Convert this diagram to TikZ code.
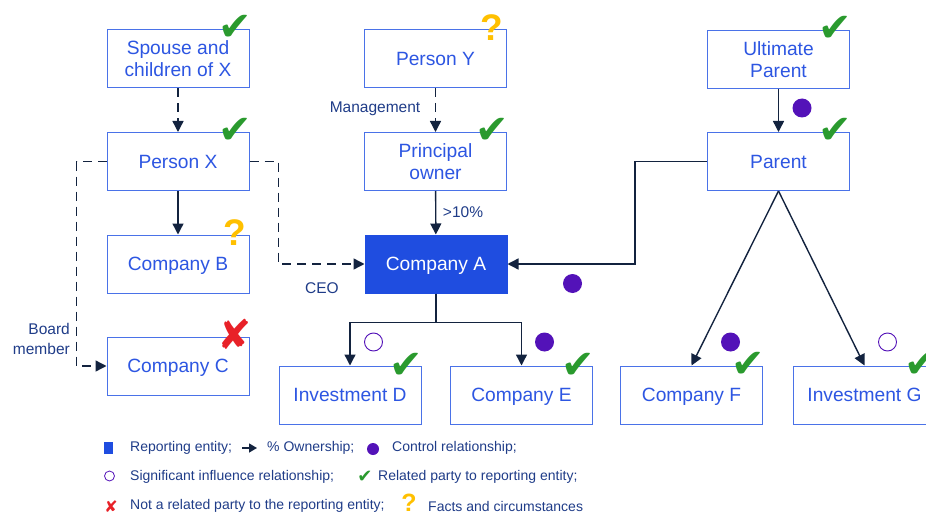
\documentclass[tikz,border=0pt]{standalone}
\usepackage{fontspec}
\setmainfont{Liberation Sans}
\newfontfamily\symfont{DejaVu Sans}
\usepackage{tikz}
\usetikzlibrary{arrows.meta,calc}

\definecolor{boxblue}{HTML}{4A72E8}
\definecolor{txtblue}{HTML}{2D56E2}
\definecolor{fillblue}{HTML}{1F4DE0}
\definecolor{linenavy}{HTML}{13233F}
\definecolor{lblnavy}{HTML}{1F3C88}
\definecolor{ctrlpurple}{HTML}{5312B8}
\definecolor{chkgreen}{HTML}{2A9A2E}
\definecolor{qorange}{HTML}{FFC000}
\definecolor{xred}{HTML}{E82128}

\begin{document}
\begin{tikzpicture}[x=1pt,y=-1pt,
    entity/.style={draw=boxblue,line width=1pt,fill=white,text=txtblue,minimum width=142pt,minimum height=58pt,inner sep=0pt,align=center,text depth=0pt,font=\fontsize{19.2}{22}\selectfont},
    report/.style={entity,fill=fillblue,draw=fillblue,text=white},
    own/.style={draw=linenavy,line width=1.4pt,-{Triangle[length=11pt,width=11pt]}},
    rel/.style={own,dash pattern=on 9pt off 6pt},
    lbl/.style={text=lblnavy,font=\fontsize{15.5}{20}\selectfont,inner sep=0pt},
    ctrl/.style={circle,fill=ctrlpurple,minimum size=19pt,inner sep=0pt},
    infl/.style={circle,draw=ctrlpurple,line width=0.9pt,fill=white,minimum size=18pt,inner sep=0pt},
    chk/.style={text=chkgreen,font=\symfont\fontsize{40}{40}\selectfont,inner sep=0pt},
    ques/.style={text=qorange,font=\bfseries\fontsize{37}{37}\selectfont,inner sep=0pt},
    nox/.style={text=xred,font=\symfont\fontsize{41}{41}\selectfont,inner sep=0pt},
    leg/.style={text=lblnavy,font=\fontsize{14}{16}\selectfont,inner sep=0pt,anchor=west}]

  \useasboundingbox (0,0) rectangle (926,516);

  % entities
  \node[entity] (spouse) at (178,59) {Spouse and\\children of X};
  \node[entity] (px) at (178,161.5) {Person X};
  \node[entity] (cb) at (178,264) {Company B};
  \node[entity] (cc) at (178,366) {Company C};
  \node[entity] (py) at (435.5,58.5) {Person Y};
  \node[entity] (po) at (435.5,161.5) {Principal\\owner};
  \node[report] (ca) at (436,264) {Company A};
  \node[entity] (id) at (350,395) {Investment D};
  \node[entity] (ce) at (521.5,395) {Company E};
  \node[entity] (up) at (778.5,59.5) {Ultimate\\Parent};
  \node[entity] (par) at (778.5,161.5) {Parent};
  \node[entity] (cf) at (691.5,395) {Company F};
  \node[entity] (ig) at (864.5,395) {Investment G};

  % links
  \draw[rel] (spouse) -- (px);
  \draw[own] (px) -- (cb);
  \draw[rel] (px.west) -- ++(-30,0) |- (cc.west);
  \draw[rel] (px.east) -- ++(29,0) |- (ca.west);
  \draw[rel] (py) -- (po);
  \draw[own] (po) -- (ca);
  \draw[own] (ca.south) -- ++(0,29) -| (id.north);
  \draw[own] (ca.south) -- ++(0,29) -| (ce.north);
  \draw[own] (up) -- (par);
  \draw[own] (par.west) -- ++(-72,0) |- (ca.east);
  \draw[own] (par.south) -- (cf.north);
  \draw[own] (par.south) -- (ig.north);

  \node[lbl,anchor=east,align=right] (bm) at (70,339) {Board\\member};
  \node[lbl] (ceo) at (322,288) {CEO};
  \node[lbl] (mgmt) at (375,109) {Management};
  \node[lbl] (pct) at (463,212) {>10\%};

  % relationship marks
  \node[ctrl] (k1) at (802,108) {};
  \node[ctrl] (k2) at (572.5,283.5) {};
  \node[ctrl] (k3) at (544.5,342) {};
  \node[ctrl] (k4) at (730.5,342) {};
  \node[infl] (s1) at (373.5,342) {};
  \node[infl] (s2) at (887.5,342) {};

  \node[chk] (c1) at (235,28) {✔};
  \node[chk] (c2) at (235,131) {✔};
  \node[chk] (c3) at (492,131) {✔};
  \node[chk] (c4) at (835,29) {✔};
  \node[chk] (c5) at (835,131) {✔};
  \node[chk] (c6) at (406,366) {✔};
  \node[chk] (c7) at (578,366) {✔};
  \node[chk] (c8) at (748,365) {✔};
  \node[chk] (c9) at (921,365) {✔};
  \node[ques] (q1) at (492,28) {?};
  \node[ques] (q2) at (235,233) {?};
  \node[nox] (x1) at (235,334) {✘};

  % legend
  \node[fill=fillblue,minimum width=9pt,minimum height=12pt,inner sep=0pt] (lsq) at (108,448) {};
  \node[leg] (lrep) at (130,448) {Reporting entity;};
  \coordinate (la0) at (242,448);
  \coordinate (la1) at (257,448);
  \draw[own,-{Triangle[length=8pt,width=9pt]}] (la0) -- (la1);
  \node[leg] (lown) at (267,448) {\% Ownership;};
  \node[ctrl,minimum size=12pt] (lctrl) at (373,449) {};
  \node[leg] (lctl) at (392,448) {Control relationship;};

  \node[infl,minimum size=10pt,line width=0.8pt] (linf) at (109.5,476) {};
  \node[leg] (lsig) at (130,477) {Significant influence relationship;};
  \node[chk,font=\symfont\fontsize{18}{18}\selectfont] (lchk) at (365,477) {✔};
  \node[leg] (lrel) at (378,477) {Related party to reporting entity;};

  \node[nox,font=\symfont\fontsize{16}{16}\selectfont] (lx) at (111,507) {✘};
  \node[leg] (lnot) at (130,506) {Not a related party to the reporting entity;};
  \node[ques,font=\bfseries\fontsize{25}{25}\selectfont] (lq) at (409,503) {?};
  \node[leg] (lfac) at (428,506) {Facts and circumstances};
\end{tikzpicture}
\end{document}
